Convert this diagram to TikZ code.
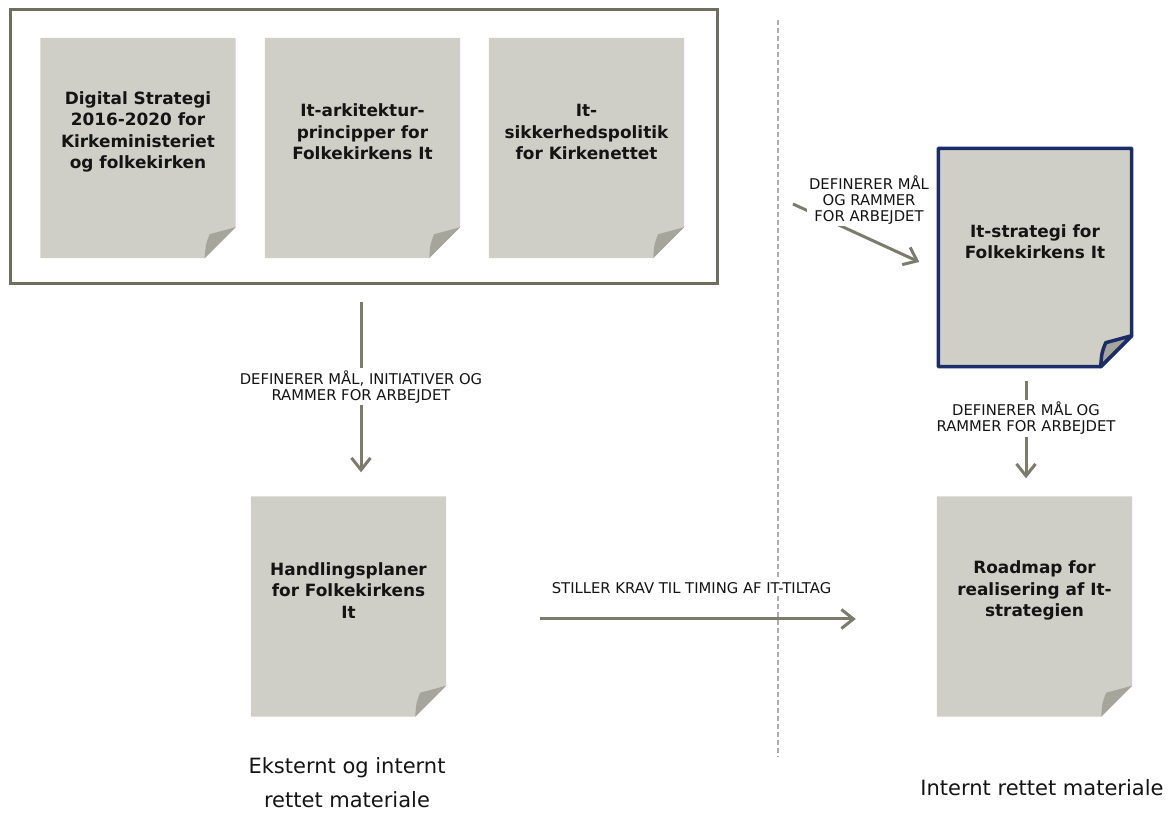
\documentclass[tikz,border=0pt]{standalone}
\usepackage{fontspec}
\setmainfont{DejaVu Sans}
\usepackage{tikz}
\usetikzlibrary{calc}
\usetikzlibrary{arrows.meta}

\definecolor{pagefill}{RGB}{208,207,199}
\definecolor{flapfill}{RGB}{166,165,156}
\definecolor{framegray}{RGB}{110,111,94}
\definecolor{arrowgray}{RGB}{124,124,108}
\definecolor{stratblue}{RGB}{26,45,105}
\definecolor{textdark}{RGB}{20,20,20}
\definecolor{dividergray}{RGB}{172,172,172}

\tikzset{
  page/.style={minimum width=195pt,minimum height=220pt,inner sep=0pt},
  pagetext/.style={align=center,font=\fontsize{16.9}{21.3}\selectfont\bfseries,text=textdark},
  flow/.style={draw=arrowgray,line width=3pt,-{Straight Barb[length=12pt,width=19pt]}},
  flowlabel/.style={align=center,fill=white,inner sep=2pt,font=\fontsize{14.8}{16}\selectfont,text=textdark},
  sidelabel/.style={align=center,font=\fontsize{21}{34}\selectfont,text=textdark},
  divider/.style={draw=dividergray,line width=2pt,dash pattern=on 5pt off 3pt},
}

% page with folded corner, drawn round an empty node
\newcommand\dogear[2][]{%
  \fill[pagefill,#1] (#2.north west) -- (#2.north east) -- ([yshift=31pt]#2.south east)
      -- ([xshift=-31pt]#2.south east) -- (#2.south west) -- cycle;
  \fill[flapfill,#1] ([xshift=-31pt]#2.south east) .. controls ([xshift=-30pt,yshift=14pt]#2.south east)
      .. ([xshift=-26pt,yshift=24pt]#2.south east) -- ([yshift=31pt]#2.south east) -- cycle;
}

\begin{document}
\begin{tikzpicture}[x=1pt,y=1pt]
    \useasboundingbox (0,0) rectangle (1171,812);

    \draw[divider] (778,792) -- (778,55);

    \node[draw=framegray,line width=3pt,minimum width=707pt,minimum height=274pt] (frame) at (363.5,665) {};
    \foreach \name/\xpos in {digi/138,arch/362.5,sikk/586.5}{
        \node[page] (\name) at (\xpos,664) {};
        \dogear{\name}
    }
    \node[pagetext] (digi-t) at ([yshift=16pt]digi.center) {Digital Strategi\\2016-2020 for\\Kirkeministeriet\\og folkekirken};
    \node[pagetext] (arch-t) at ([yshift=16pt]arch.center) {It-arkitektur-\\principper for\\Folkekirkens It};
    \node[pagetext] (sikk-t) at ([yshift=16pt]sikk.center) {It-\\sikkerhedspolitik\\for Kirkenettet};

    \node[page] (handl) at (348.5,205.5) {};
    \dogear{handl}
    \node[pagetext] (handl-t) at ([yshift=16pt]handl.center) {Handlingsplaner\\for Folkekirkens\\It};

    \node[page,minimum width=193pt,minimum height=218pt] (strat) at (1035,554.5) {};
    \dogear[draw=stratblue,line width=3.5pt,line join=round]{strat}
    \node[pagetext] (strat-t) at ([yshift=16pt]strat.center) {It-strategi for\\Folkekirkens It};

    \node[page] (road) at (1034.5,205.5) {};
    \dogear{road}
    \node[pagetext] (road-t) at ([yshift=16pt]road.center) {Roadmap for\\realisering af It-\\strategien};

    \draw[flow,shorten <=16.5pt,shorten >=24pt] ([xshift=-2.5pt]frame.south) -- ([xshift=-2.5pt]frame.south |- handl.north)
        node[flowlabel,pos=0.48]{DEFINERER MÅL, INITIATIVER OG\\RAMMER FOR ARBEJDET};

    \coordinate (feed) at (793,608);
    \draw[flow] (feed) -- ([xshift=-19pt,yshift=-4.5pt]strat.west);
    \node[flowlabel] (goal-t) at (869,612) {DEFINERER MÅL\\OG RAMMER\\FOR ARBEJDET};

    \draw[flow,shorten <=14pt,shorten >=18pt] ([xshift=-9pt]strat.south) -- ([xshift=-9pt]strat.south |- road.north)
        node[flowlabel,pos=0.4]{DEFINERER MÅL OG\\RAMMER FOR ARBEJDET};

    \draw[flow,shorten <=94pt,shorten >=81pt] ([yshift=-12.5pt]handl.east) -- ([yshift=-12.5pt]road.west)
        node[flowlabel,midway,yshift=31pt]{STILLER KRAV TIL TIMING AF IT-TILTAG};

    \node[sidelabel] (ext-t) at (347,29) {Eksternt og internt\\rettet materiale};
    \node[sidelabel] (int-t) at (1042,24) {Internt rettet materiale};

    % \draw[red] (0,0) grid[step=100] (1171,812);
\end{tikzpicture}
\end{document}
